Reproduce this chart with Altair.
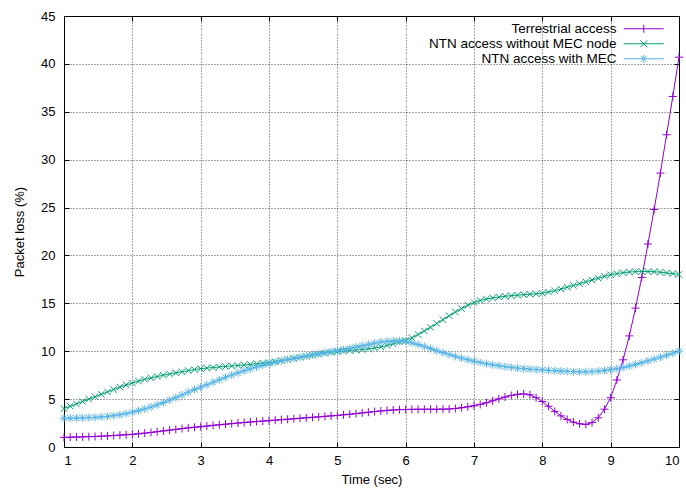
import altair as alt
import numpy as np
import pandas as pd

series_names = ["Terrestrial access", "NTN access without MEC node", "NTN access with MEC"]
series_colors = ["#9400d3", "#009e73", "#56b4e9"]

# sampling grid of the smoothed curves (100 samples from 1 to 10 s)
time_sec = np.linspace(1, 10, 100)

terrestrial = [
    1.00, 1.02, 1.04, 1.06, 1.08, 1.10, 1.13, 1.16, 1.20, 1.24, 1.28,
    1.32, 1.38, 1.45, 1.52, 1.60, 1.68, 1.76, 1.84, 1.92, 2.00, 2.06,
    2.12, 2.19, 2.26, 2.32, 2.38, 2.44, 2.50, 2.56, 2.61, 2.66, 2.71,
    2.75, 2.80, 2.85, 2.90, 2.95, 3.00, 3.05, 3.10, 3.15, 3.20, 3.25,
    3.30, 3.36, 3.42, 3.49, 3.56, 3.63, 3.70, 3.76, 3.82, 3.86, 3.90,
    3.92, 3.93, 3.94, 3.94, 3.94, 3.94, 3.95, 3.97, 4.02, 4.10, 4.20,
    4.30, 4.45, 4.62, 4.82, 5.03, 5.22, 5.38, 5.50, 5.55, 5.45, 5.15,
    4.75, 4.25, 3.72, 3.25, 2.88, 2.60, 2.42, 2.36, 2.55, 3.05, 3.95,
    5.15, 7.00, 9.10, 11.60, 14.50, 17.70, 21.20, 24.80, 28.60, 32.60, 36.60, 40.70,
]

ntn_without_mec = [
    4.00, 4.25, 4.50, 4.75, 5.00, 5.25, 5.50, 5.75, 6.00, 6.25, 6.48,
    6.68, 6.88, 7.06, 7.22, 7.36, 7.50, 7.62, 7.74, 7.86, 7.98, 8.08,
    8.18, 8.24, 8.30, 8.36, 8.41, 8.46, 8.51, 8.57, 8.63, 8.69, 8.76,
    8.82, 8.92, 9.03, 9.14, 9.25, 9.36, 9.47, 9.58, 9.69, 9.79, 9.88,
    9.96, 10.02, 10.08, 10.13, 10.18, 10.25, 10.33, 10.45, 10.60, 10.78, 10.95,
    11.12, 11.40, 11.75, 12.12, 12.50, 12.90, 13.30, 13.70, 14.10, 14.45, 14.80,
    15.08, 15.30, 15.45, 15.57, 15.66, 15.74, 15.80, 15.85, 15.90, 15.95, 16.00,
    16.06, 16.18, 16.33, 16.50, 16.68, 16.86, 17.05, 17.24, 17.44, 17.62, 17.82,
    17.98, 18.10, 18.20, 18.27, 18.30, 18.32, 18.32, 18.30, 18.25, 18.18, 18.10, 18.02,
]

ntn_with_mec = [
    3.00, 3.01, 3.02, 3.04, 3.07, 3.10, 3.14, 3.20, 3.28, 3.37, 3.48,
    3.64, 3.80, 3.98, 4.18, 4.40, 4.64, 4.90, 5.16, 5.44, 5.72, 6.00,
    6.24, 6.50, 6.76, 7.02, 7.28, 7.52, 7.74, 7.96, 8.16, 8.36, 8.54,
    8.70, 8.86, 9.00, 9.14, 9.26, 9.38, 9.50, 9.62, 9.74, 9.86, 9.96,
    10.06, 10.18, 10.30, 10.44, 10.58, 10.72, 10.85, 10.96, 11.04, 11.08, 11.08,
    11.02, 10.88, 10.70, 10.50, 10.28, 10.06, 9.85, 9.65, 9.46, 9.28, 9.12,
    8.96, 8.82, 8.69, 8.58, 8.48, 8.39, 8.31, 8.24, 8.18, 8.13, 8.09,
    8.05, 8.01, 7.97, 7.93, 7.90, 7.87, 7.85, 7.85, 7.87, 7.92, 7.99,
    8.07, 8.17, 8.30, 8.45, 8.62, 8.80, 8.99, 9.18, 9.38, 9.58, 9.79, 10.00,
]

x_ticks = list(range(1, 11))
y_ticks = list(range(0, 46, 5))

marker_paths = [
    "M-1,0L1,0M0,-1L0,1",
    "M-0.8,-0.8L0.8,0.8M-0.8,0.8L0.8,-0.8",
    "M-1,0L1,0M0,-1L0,1M-0.75,-0.75L0.75,0.75M-0.75,0.75L0.75,-0.75",
]
# legend symbols: a 40 px line sample with the marker in its middle (1 unit = 5 px)
legend_paths = [
    "M-4,0L4,0M0,-0.8L0,0.8",
    "M-4,0L4,0M-0.7,-0.7L0.7,0.7M-0.7,0.7L0.7,-0.7",
    "M-4,0L4,0M0,-0.8L0,0.8M-0.6,-0.6L0.6,0.6M-0.6,0.6L0.6,-0.6",
]

frames = []
for name, vals in zip(series_names, [terrestrial, ntn_without_mec, ntn_with_mec]):
    frames.append(pd.DataFrame({"t": time_sec, "loss": vals, "series": name}))
df = pd.concat(frames, ignore_index=True)

W, H = 615, 431
FONT = "Liberation Sans"
FS = 13

xs = alt.Scale(domain=[1, 10], nice=False, zero=False)
ys = alt.Scale(domain=[0, 45], nice=False, zero=False)
color_scale = alt.Scale(domain=series_names, range=series_colors)

grid_kw = dict(grid=True, gridColor="#000000", gridOpacity=0.7, gridDash=[1, 2], gridWidth=1)

lines = alt.Chart(df).mark_line(strokeWidth=1).encode(
    x=alt.X("t:Q", scale=xs, axis=alt.Axis(
        title="Time (sec)", values=x_ticks, ticks=False, domain=False,
        labelFont=FONT, labelFontSize=FS, labelColor="black", labelPadding=7,
        titleFont=FONT, titleFontSize=FS, titleFontWeight="normal", titleColor="black",
        titlePadding=6, format="d", **grid_kw)),
    y=alt.Y("loss:Q", scale=ys, axis=alt.Axis(
        title="Packet loss (%)", values=y_ticks, ticks=False, domain=False,
        labelFont=FONT, labelFontSize=FS, labelColor="black", labelPadding=9,
        titleFont=FONT, titleFontSize=FS, titleFontWeight="normal", titleColor="black",
        titlePadding=14, format="d", **grid_kw)),
    color=alt.Color("series:N", scale=color_scale, legend=None),
    detail="series:N",
)

points = alt.Chart(df).mark_point(filled=False, strokeWidth=1, size=64, opacity=1).encode(
    x=alt.X("t:Q", scale=xs, axis=alt.Axis(
        orient="top", offset=-H, values=x_ticks, labels=False, ticks=True, tickSize=5,
        tickColor="black", domain=False, grid=False, title=None)),
    y=alt.Y("loss:Q", scale=ys, axis=alt.Axis(
        orient="right", offset=-W, values=y_ticks, labels=False, ticks=True, tickSize=5,
        tickColor="black", domain=False, grid=False, title=None)),
    color=alt.Color("series:N", scale=color_scale, legend=None),
    shape=alt.Shape("series:N", scale=alt.Scale(domain=series_names, range=marker_paths), legend=None),
)

legend_kw = dict(
    title=None, orient="none", legendX=573, legendY=6, labelAlign="right",
    labelOffset={"expr": "-34"}, symbolSize=100, symbolStrokeWidth=1, labelLimit=400,
    labelFont=FONT, labelFontSize=13.5, labelColor="black", padding=0, rowPadding=0,
)

legend_layer = alt.Chart(df).transform_filter("false").mark_point(filled=False, strokeWidth=1, opacity=1).encode(
    x=alt.X("t:Q", scale=xs, axis=alt.Axis(
        orient="bottom", offset=-H, values=x_ticks, labels=False, ticks=True, tickSize=5,
        tickColor="black", domain=False, grid=False, title=None)),
    y=alt.Y("loss:Q", scale=ys, axis=alt.Axis(
        orient="left", offset=-W, values=y_ticks, labels=False, ticks=True, tickSize=5,
        tickColor="black", domain=False, grid=False, title=None)),
    color=alt.Color("series:N", scale=color_scale, legend=alt.Legend(**legend_kw)),
    shape=alt.Shape("series:N", scale=alt.Scale(domain=series_names, range=legend_paths),
                    legend=alt.Legend(**legend_kw)),
)

chart = alt.layer(lines, points, legend_layer).resolve_scale(
    x="independent", y="independent", shape="independent"
).resolve_legend(
    color="independent", shape="independent"
).properties(
    width=W, height=H,
    autosize=alt.AutoSizeParams(type="none"),
    padding={"left": 64, "top": 16, "right": 7, "bottom": 44},
    background="white",
).configure_view(stroke="black", strokeWidth=1)

chart.save("out.html", embed_options={"renderer": "svg", "actions": False})
